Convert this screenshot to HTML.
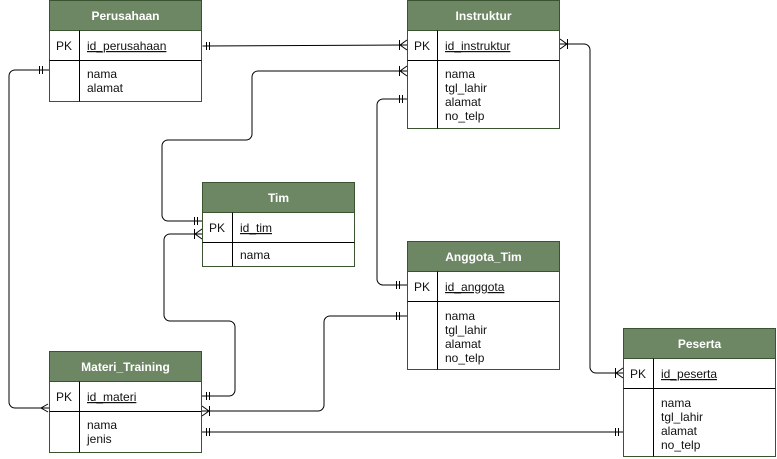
<!DOCTYPE html>
<html><head><meta charset="utf-8"><style>
html,body{margin:0;padding:0;background:#fff;}
svg{display:block;}
text{font-family:"Liberation Sans",Arial,sans-serif;font-size:12px;fill:#111;}
.h{fill:#fff;font-weight:bold;text-anchor:middle;}
.tb rect{fill:#fff;stroke:#3a5431;stroke-width:1;}
.tb rect.hd{fill:#6d8764;stroke:#3a5431;}
.ln{stroke:#000;stroke-width:1;fill:none;}
.c{stroke:#000;stroke-width:1;fill:none;}
</style></head><body>
<svg width="777" height="459" viewBox="0 0 777 459" xmlns="http://www.w3.org/2000/svg">
<g class="c">
<path d="M202.5 46 L407 45"/>
<path d="M206.5 42v8M209.5 42v8"/>
<path d="M399.5 40v10M400 45L407 40M400 45L407 50"/>
<path d="M407 71H258a6 6 0 0 0 -6 6V134a6 6 0 0 1 -6 6H168a6 6 0 0 0 -6 6V215a6 6 0 0 0 6 6H202"/>
<path d="M399.5 66v10M400 71L407 66M400 71L407 76"/>
<path d="M194.5 217v8M197.5 217v8"/>
<path d="M407 99H383a6 6 0 0 0 -6 6V279a6 6 0 0 0 6 6H407"/>
<path d="M399.5 95v8M402.5 95v8"/>
<path d="M396.5 281v8M399.5 281v8"/>
<path d="M560 44H584a6 6 0 0 1 6 6V367a6 6 0 0 0 6 6H623"/>
<path d="M567.5 39v10M567 44L560 39M567 44L560 49"/>
<path d="M615.5 368v10M616 373L623 368M616 373L623 378"/>
<path d="M49 70H15a6 6 0 0 0 -6 6V402a6 6 0 0 0 6 6H49"/>
<path d="M39.5 66v8M42.5 66v8"/>
<path d="M48 404L41 408L48 412"/>
<path d="M202 234H170a6 6 0 0 0 -6 6V315a6 6 0 0 0 6 6H229a6 6 0 0 1 6 6V390a6 6 0 0 1 -6 6H202"/>
<path d="M194.5 229v10M195 234L202 229M195 234L202 239"/>
<path d="M206.5 392v8M209.5 392v8"/>
<path d="M407 316H330a6 6 0 0 0 -6 6V405a6 6 0 0 1 -6 6H202"/>
<path d="M396.5 312v8M399.5 312v8"/>
<path d="M209.5 406v10M209 411L202 406M209 411L202 416"/>
<path d="M202 432H623"/>
<path d="M206.5 428v8M209.5 428v8"/>
<path d="M615.5 428v8M618.5 428v8"/>
</g>

<g class="tb">
<rect x="49.5" y="0.5" width="152" height="101"/>
<rect class="hd" x="49.5" y="0.5" width="152" height="30"/>
<path class="ln" d="M49.5 60.5H201.5M79.5 30.5V101.5"/>
</g>
<text class="h" x="125.5" y="20">Perusahaan</text>
<text x="56" y="50">PK</text>
<text x="87" y="50" text-decoration="underline">id_perusahaan</text>
<text x="87" y="78">nama</text><text x="87" y="92">alamat</text>

<g class="tb">
<rect x="407.5" y="0.5" width="152" height="128"/>
<rect class="hd" x="407.5" y="0.5" width="152" height="30"/>
<path class="ln" d="M407.5 60.5H559.5M437.5 30.5V128.5"/>
</g>
<text class="h" x="483.5" y="20">Instruktur</text>
<text x="414" y="50">PK</text>
<text x="445" y="50" text-decoration="underline">id_instruktur</text>
<text x="445" y="78">nama</text><text x="445" y="92">tgl_lahir</text><text x="445" y="106">alamat</text><text x="445" y="120">no_telp</text>

<g class="tb">
<rect x="202.5" y="182.5" width="152" height="84"/>
<rect class="hd" x="202.5" y="182.5" width="152" height="30"/>
<path class="ln" d="M202.5 242.5H354.5M232.5 212.5V266.5"/>
</g>
<text class="h" x="278.5" y="202">Tim</text>
<text x="209" y="232">PK</text>
<text x="240" y="232" text-decoration="underline">id_tim</text>
<text x="240" y="259">nama</text>

<g class="tb">
<rect x="407.5" y="241.5" width="152" height="128"/>
<rect class="hd" x="407.5" y="241.5" width="152" height="30"/>
<path class="ln" d="M407.5 301.5H559.5M437.5 271.5V369.5"/>
</g>
<text class="h" x="483.5" y="261">Anggota_Tim</text>
<text x="414" y="291">PK</text>
<text x="445" y="291" text-decoration="underline">id_anggota</text>
<text x="445" y="320">nama</text><text x="445" y="334">tgl_lahir</text><text x="445" y="348">alamat</text><text x="445" y="362">no_telp</text>

<g class="tb">
<rect x="623.5" y="328.5" width="152" height="128"/>
<rect class="hd" x="623.5" y="328.5" width="152" height="30"/>
<path class="ln" d="M623.5 388.5H775.5M653.5 358.5V456.5"/>
</g>
<text class="h" x="699.5" y="348">Peserta</text>
<text x="630" y="378">PK</text>
<text x="661" y="378" text-decoration="underline">id_peserta</text>
<text x="661" y="407">nama</text><text x="661" y="421">tgl_lahir</text><text x="661" y="435">alamat</text><text x="661" y="449">no_telp</text>

<g class="tb">
<rect x="49.5" y="351.5" width="152" height="101"/>
<rect class="hd" x="49.5" y="351.5" width="152" height="30"/>
<path class="ln" d="M49.5 411.5H201.5M79.5 381.5V452.5"/>
</g>
<text class="h" x="125.5" y="371">Materi_Training</text>
<text x="56" y="401">PK</text>
<text x="87" y="401" text-decoration="underline">id_materi</text>
<text x="87" y="429">nama</text><text x="87" y="443">jenis</text>
</svg>
</body></html>
